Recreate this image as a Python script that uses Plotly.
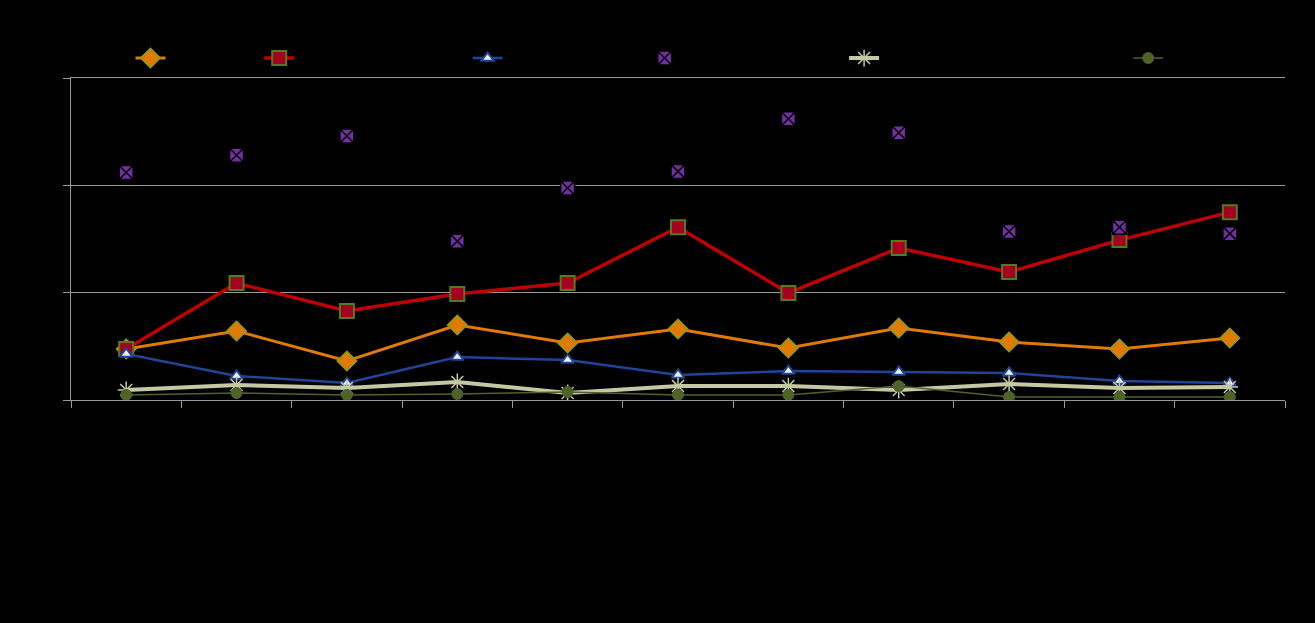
import plotly.graph_objects as go

categories = ["C1", "C2", "C3", "C4", "C5", "C6", "C7", "C8", "C9", "C10", "C11"]

s_orange = [4.75, 6.43, 3.63, 6.99, 5.31, 6.61, 4.84, 6.71, 5.40, 4.75, 5.78]
s_red = [4.75, 10.9, 8.29, 9.88, 10.9, 16.1, 9.97, 14.16, 11.93, 14.9, 17.5]
s_blue = [4.29, 2.24, 1.58, 4.00, 3.73, 2.33, 2.70, 2.61, 2.52, 1.77, 1.58]
s_purple = [21.2, 22.8, 24.6, 14.8, 19.75, 21.3, 26.2, 24.9, 15.7, 16.1, 15.5]
s_khaki = [0.93, 1.40, 1.12, 1.68, 0.65, 1.30, 1.30, 0.93, 1.49, 1.12, 1.21]
s_green = [0.47, 0.65, 0.47, 0.56, 0.75, 0.47, 0.47, 1.30, 0.28, 0.28, 0.28]

names = [
    "Series one labe",
    "Series two label with more text",
    "Series three label textual",
    "Series four label with text too",
    "Series five label with a much longer text here",
    "Series six",
]
y_ticks = [0, 10, 20, 30]

GRID = "#9a9a9a"
fig = go.Figure()

fig.add_trace(go.Scatter(x=categories, y=s_orange, name=names[0], mode="lines+markers",
                         line=dict(color="#E07A00", width=3),
                         marker=dict(symbol="diamond", size=15, color="#E07A00",
                                     line=dict(color="#8C9A1E", width=1.5))))
fig.add_trace(go.Scatter(x=categories, y=s_red, name=names[1], mode="lines+markers",
                         line=dict(color="#C00000", width=3.5),
                         marker=dict(symbol="square", size=14, color="#A50021",
                                     line=dict(color="#557A1E", width=2))))
fig.add_trace(go.Scatter(x=categories, y=s_blue, name=names[2], mode="lines+markers",
                         line=dict(color="#1F4596", width=2.5),
                         marker=dict(symbol="triangle-up", size=11, color="#EEF2FA",
                                     line=dict(color="#1F4596", width=2))))
fig.add_trace(go.Scatter(x=categories, y=s_purple, name=names[3], mode="markers",
                         marker=dict(symbol="square-x", size=14, color="#7030A0",
                                     line=dict(color="#000000", width=1.5))))
fig.add_trace(go.Scatter(x=categories, y=s_khaki, name=names[4], mode="lines+markers",
                         line=dict(color="#C4C8A2", width=4),
                         marker=dict(symbol="asterisk", size=14, color="#C4C8A2",
                                     line=dict(color="#C4C8A2", width=1.5))))
fig.add_trace(go.Scatter(x=categories, y=s_green, name=names[5], mode="lines+markers",
                         line=dict(color="#4F6228", width=1.5),
                         marker=dict(symbol="circle", size=11, color="#4F6228",
                                     line=dict(color="#4F6228", width=1))))

fig.update_layout(
    width=1315, height=623,
    paper_bgcolor="#000000", plot_bgcolor="#000000",
    margin=dict(l=71, r=30, t=78, b=223),
    font=dict(family="Liberation Sans, Arial", size=12, color="#000000"),
    showlegend=True,
    legend=dict(orientation="h", x=0.049, xanchor="left", y=1.062, yanchor="middle",
                bgcolor="rgba(0,0,0,0)", font=dict(color="#000000", size=12),
                itemwidth=30),
    xaxis=dict(type="category", range=[-0.5, 10.5], showgrid=False,
               showline=True, linecolor=GRID, linewidth=1, mirror=True,
               ticks="outside", tickson="boundaries", ticklen=7, tickcolor=GRID,
               tickfont=dict(color="#000000")),
    yaxis=dict(range=[0, 30], tickvals=y_ticks, showgrid=True, gridcolor=GRID, gridwidth=1,
               showline=True, linecolor=GRID, linewidth=1, zeroline=False,
               ticks="outside", ticklen=7, tickcolor=GRID,
               tickfont=dict(color="#000000")),
)

fig.write_html("out.html")
